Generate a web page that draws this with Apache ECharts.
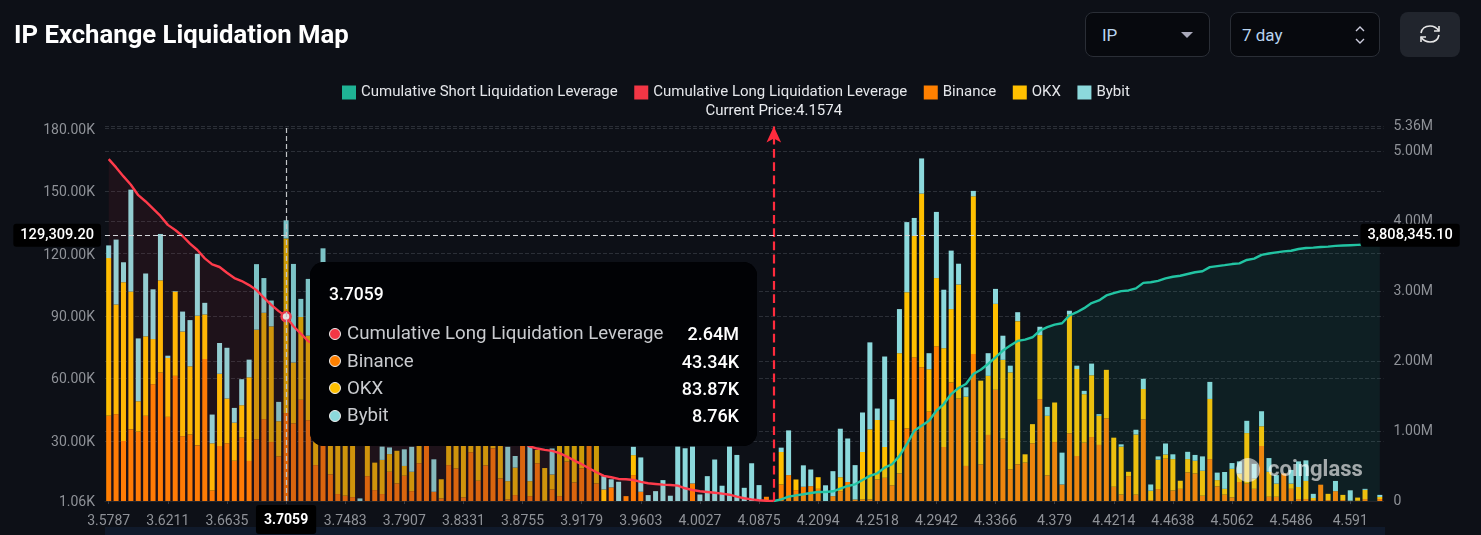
<!DOCTYPE html>
<html><head><meta charset="utf-8">
<script src="https://cdn.jsdelivr.net/npm/echarts@6/dist/echarts.min.js"></script>
<style>
html,body{margin:0;padding:0;background:#0d1017;width:1481px;height:535px;overflow:hidden;font-family:Roboto,sans-serif}
#c{position:absolute;left:0;top:0;width:1481px;height:535px}
.sel{position:absolute;top:12px;height:43px;background:#07090e;border:1px solid #2a2e36;border-radius:8px;color:#b9d4f0;font-size:17px;line-height:45px;padding-left:16px;box-sizing:content-box}
#strip{position:absolute;left:105px;top:527px;width:1280px;height:8px;background:#101a2b}
</style></head><body>
<div id="strip"></div>
<div id="c"></div>
<div class="sel" style="left:1085px;width:107px">IP<svg style="position:absolute;right:16px;top:19px" width="12" height="6"><path d="M0 0H12L6 6Z" fill="#aab"/></svg></div>
<div class="sel" style="left:1230px;width:137px;padding-left:11px">7 day<svg style="position:absolute;right:14px;top:12px" width="10" height="20"><path d="M1 6L5 2L9 6M1 14L5 18L9 14" stroke="#ccd" fill="none" stroke-width="1.4"/></svg></div>
<div style="position:absolute;left:1400px;top:12px;width:60px;height:45px;background:#21252d;border-radius:8px"><svg style="position:absolute;left:19px;top:12px" width="22" height="20" viewBox="0 0 22 20" fill="none" stroke="#e8e8e8" stroke-width="1.6"><path d="M2 9C3 4 7 2 11 2C15 2 18 4 20 7M20 11C19 16 15 18 11 18C7 18 4 16 2 13"/><path d="M20 2V7H15M2 18V13H7"/></svg></div>
<script>
const categories=["3.5787","3.5840","3.5893","3.5946","3.5999","3.6052","3.6105","3.6158","3.6211","3.6264","3.6317","3.6370","3.6423","3.6476","3.6529","3.6582","3.6635","3.6688","3.6741","3.6794","3.6847","3.6900","3.6953","3.7006","3.7059","3.7112","3.7165","3.7218","3.7271","3.7324","3.7377","3.7430","3.7483","3.7536","3.7589","3.7642","3.7695","3.7748","3.7801","3.7854","3.7907","3.7960","3.8013","3.8066","3.8119","3.8172","3.8225","3.8278","3.8331","3.8384","3.8437","3.8490","3.8543","3.8596","3.8649","3.8702","3.8755","3.8808","3.8861","3.8914","3.8967","3.9020","3.9073","3.9126","3.9179","3.9232","3.9285","3.9338","3.9391","3.9444","3.9497","3.9550","3.9603","3.9656","3.9709","3.9762","3.9815","3.9868","3.9921","3.9974","4.0027","4.0133","4.0239","4.0345","4.0451","4.0557","4.0663","4.0769","4.0875","4.0981","4.1574","4.1829","4.1882","4.1935","4.1988","4.2041","4.2094","4.2147","4.2200","4.2253","4.2306","4.2359","4.2412","4.2465","4.2518","4.2571","4.2624","4.2677","4.2730","4.2783","4.2836","4.2889","4.2942","4.2995","4.3048","4.3101","4.3154","4.3207","4.3260","4.3313","4.3366","4.3419","4.3472","4.3525","4.3578","4.3631","4.3684","4.3737","4.379","4.3843","4.3896","4.3949","4.4002","4.4055","4.4108","4.4161","4.4214","4.4267","4.4320","4.4373","4.4426","4.4479","4.4532","4.4585","4.4638","4.4691","4.4744","4.4797","4.4850","4.4903","4.4956","4.5009","4.5062","4.5115","4.5168","4.5221","4.5274","4.5327","4.5380","4.5433","4.5486","4.5539","4.5592","4.5645","4.5698","4.5751","4.5804","4.5857","4.591","4.5963","4.6016","4.6069","4.6122"];
const binance=[42.0,42.8,29.9,35.5,34.4,42.0,57.2,62.8,41.5,61.2,32.2,33.0,27.8,69.3,6.1,27.5,28.8,20.4,31.5,20.3,30.7,40.4,29.4,22.5,43.34,38.4,49.7,39.9,18.3,30.0,13.9,4.4,3.6,2.9,0,13.0,6.3,4.4,15.1,9.5,13.2,5.8,19.2,34.0,5.5,2.3,18.3,16.7,2.8,24.5,10.8,18.2,26.4,11.9,1.8,3.9,36.0,3.4,19.2,1.2,6.6,3.4,20.0,10.0,16.7,38.0,9.5,1.0,7.6,0,3.4,13.5,5.5,0,0,0,0,0,0,9.5,0,0,0,0,0,0,0,0,0,3.1,0,9.0,13.5,6.3,7.9,8.2,6.9,0,3.4,5.8,10.2,1.8,1.8,1.8,11.4,12.2,8.6,14.3,35.9,70.1,65.3,44.0,75.4,27.0,58.0,50.3,17.9,71.7,18.7,32.8,54.5,31.0,16.3,18.7,19.5,28.8,50.0,13.4,29.4,9.0,33.6,22.7,29.1,31.8,28.0,40.8,7.9,4.2,13.0,4.1,40.3,1.5,6.8,21.4,6.1,6.9,14.8,14.3,3.6,21.2,8.1,4.1,2.8,10.2,9.4,6.9,27.5,3.1,3.1,14.3,6.9,2,2,1.5,8.9,1.5,5.8,1.5,1.2,1.2,2,0,2];
const okx=[75.8,52.7,76.3,66.2,14.6,38.2,21.7,44.3,28.3,40.5,50.3,32.8,62.3,21.4,22.7,34.7,21.5,18.3,15.6,40.2,52.7,51.1,55.6,16.9,83.87,29.2,39.8,40.6,25,70,38,45,48,45,0,50,13.2,16.4,8.5,15.7,4.7,9.3,28,30,0,9.2,35,30,40,30,40,25,8,40,8.8,13.2,0,7.2,6.4,15.7,7.2,40,30,35,25,0,30,5.6,0,0,0,9.6,0,0,0,0,0,0,0,0,0,0,0,0,0,0,0,0,0,0,0,15.6,0,5.1,0,0,5.6,0,0,6.7,0,0,22.8,33.7,28.6,14.8,31.3,57.8,65.5,58.3,83.5,20.4,32.8,47.5,35.3,54.8,33.3,75.8,40.2,28.4,41.3,37.9,46.6,68.8,4.0,9.2,30.8,28.6,19.0,0,57.0,41.8,23.3,29.7,14.0,23.3,23.6,23.0,2.1,28.9,14.6,4.5,14.1,2.0,15.1,3.9,6.4,6.1,12.0,28.9,3.0,2.8,13.7,4.1,24.3,5,9.5,12.0,6.3,0,2.5,5.8,8.7,1,0,3,0,2.5,0,1.5,4.4,0,1];
const bybit=[6.1,31.2,9.6,49.0,30.2,30.2,23.9,22.3,1.1,0.3,9.6,22.2,29.7,5.6,13.8,14.8,24.4,7.1,12.5,8.5,31.5,16.7,12.4,9.3,8.76,47.4,8.7,27.3,0,22.5,0,0,0,0,2.3,0,0,6.4,3.2,0,8,12,0,0,15.6,0,0,0,2.1,0,0,0,0,0,16.5,5.6,0,18,0,0,12.5,0,0,0,0,0,0,6.4,3.9,10.3,0,4,16.5,3.9,5.8,11.1,3.6,27.2,26.4,17.7,4.2,13,21,8.4,27.2,23.2,7.4,19.2,8.7,0,0,2.1,21.5,0,10.3,8.0,0,8.6,12,23.3,20.9,16.5,19,41.8,5.5,43.5,10.1,21.2,33.7,8.7,16.9,7.7,31.8,28.1,28.1,10,4.5,2.6,0,10.9,7.2,11.6,3.2,4.3,0,0,4,4.3,0,15.3,1.9,1.6,1.6,5.6,0.8,0,0,1.1,0,2.3,4.9,3,1.6,5.3,2.3,0,3.5,2.8,6.9,8.2,3.6,8.1,2.8,5.8,5.9,7,7.2,6.6,4.1,0,6.6,12.3,9.9,2,0,0,4.9,0,5,0,0.5,0,1];
const longCum=[4.895,4.776,4.647,4.527,4.378,4.288,4.187,4.081,3.953,3.880,3.794,3.685,3.593,3.474,3.388,3.350,3.268,3.192,3.149,3.091,3.019,2.910,2.809,2.718,2.64,2.502,2.397,2.287,2.24,2.12,2.07,2.02,1.97,1.92,1.918,1.86,1.83,1.79,1.75,1.70,1.66,1.62,1.57,1.52,1.49,1.46,1.41,1.36,1.31,1.26,1.20,1.15,1.11,1.05,1.01,0.97,0.85,0.78,0.751,0.732,0.718,0.685,0.636,0.579,0.527,0.469,0.412,0.359,0.340,0.316,0.312,0.301,0.273,0.254,0.244,0.234,0.230,0.22,0.182,0.158,0.139,0.129,0.119,0.105,0.090,0.062,0.039,0.024,0.010,0.004,0];
const shortCum=[0,0.024,0.062,0.081,0.096,0.115,0.129,0.129,0.139,0.177,0.215,0.239,0.301,0.359,0.397,0.478,0.526,0.646,0.813,1.005,1.077,1.148,1.292,1.388,1.531,1.617,1.675,1.818,1.880,1.962,2.057,2.153,2.225,2.292,2.311,2.344,2.440,2.488,2.526,2.545,2.656,2.703,2.761,2.833,2.871,2.943,2.976,3.005,3.014,3.044,3.123,3.132,3.152,3.186,3.211,3.225,3.250,3.275,3.289,3.348,3.363,3.377,3.392,3.402,3.451,3.470,3.524,3.544,3.559,3.574,3.583,3.608,3.622,3.627,3.637,3.642,3.652,3.657,3.662,3.667,3.672,3.675,3.68];
const leftTicks=[1.06,30,60,90,120,150,180];
const rightTicks=[0,1,2,3,4,5,5.36];
const currentPrice="4.1574";
const hoverCategory="3.7059", hoverLeft=129.3092;
const hoverLeftText="129,309.20", hoverRightText="3,808,345.10";
const FONT="Roboto", TICK="#8f9298", GRIDC="#2b2f37";
const dimStart=20, dimEnd=66;
const shaded=(data,dim)=>data.map((v,i)=>(i>=dimStart&&i<=dimEnd)?{value:v,itemStyle:{color:dim}}:v);
const shortLine=categories.map((_,i)=>i<categories.length-shortCum.length?null:shortCum[i-(categories.length-shortCum.length)]);
const longLine=categories.map((_,i)=>i<longCum.length?longCum[i]:null);
const chart=echarts.init(document.getElementById('c'),null,{renderer:'canvas'});
const barSeries=(name,data,bright,dim)=>({name,type:'bar',stack:'liq',yAxisIndex:0,barWidth:5,data:shaded(data,dim),z:2,
  itemStyle:{color:bright},emphasis:{disabled:true}});
const fmtK=v=>v.toFixed(2)+'K';
chart.setOption({
 animation:false,backgroundColor:'transparent',
 textStyle:{fontFamily:FONT},
 title:{text:'IP Exchange Liquidation Map',left:14,top:24,padding:0,textStyle:{color:'#fff',fontSize:25.7,fontWeight:700,fontFamily:FONT}},
 legend:{left:342,top:85,itemWidth:14,itemHeight:14,itemGap:16.5,icon:'rect',padding:0,
  textStyle:{color:'#e4e6ea',fontSize:15,fontFamily:FONT},
  data:['Cumulative Short Liquidation Leverage','Cumulative Long Liquidation Leverage','Binance','OKX','Bybit']},
 grid:{left:105,right:97.5,top:126.6,bottom:34,containLabel:false},
 xAxis:{type:'category',data:categories,boundaryGap:true,
  axisLine:{show:true,lineStyle:{color:'#23262d'}},
  axisTick:{show:true,alignWithLabel:true,interval:7,length:3,lineStyle:{color:'#3a3d44'}},
  axisLabel:{interval:7,color:TICK,fontSize:14,margin:13,fontFamily:FONT,hideOverlap:false},
  splitLine:{show:false},
  axisPointer:{label:{show:true,backgroundColor:'#000',color:'#fff',fontSize:14,fontWeight:700,padding:[8,8,7,8],borderRadius:3,margin:4}}},
 yAxis:[
  {type:'value',min:1.06,max:181,position:'left',
   axisLine:{show:false},axisTick:{show:false,customValues:leftTicks},
   axisLabel:{customValues:leftTicks,margin:10,formatter:v=>'{t|'+fmtK(v)+'}',
     rich:{t:{color:TICK,fontSize:14,fontFamily:FONT,padding:[3,0,0,0]}}},
   splitLine:{show:true,lineStyle:{color:GRIDC,type:'dashed'}},
   axisPointer:{label:{show:true,backgroundColor:'#000',color:'#fff',fontSize:14.6,fontWeight:500,padding:[4,7,4,7],borderRadius:3,margin:4,
     formatter:()=>hoverLeftText}}},
  {type:'value',min:0,max:5.36,position:'right',
   axisLine:{show:false},axisTick:{show:false,customValues:rightTicks},
   axisLabel:{customValues:rightTicks,color:TICK,fontSize:14,margin:10,fontFamily:FONT,formatter:v=>v===0?'0':v.toFixed(2)+'M'},
   splitLine:{show:true,lineStyle:{color:GRIDC,type:'dashed'}},
   axisPointer:{label:{show:true,backgroundColor:'#000',color:'#fff',fontSize:14.6,fontWeight:500,padding:[4,7,4,7],borderRadius:3,margin:-23,
     formatter:()=>hoverRightText}}}
 ],
 tooltip:{trigger:'axis',alwaysShowContent:true,transitionDuration:0,showDelay:0,hideDelay:0,
  axisPointer:{type:'cross',lineStyle:{color:'#c4c6c9',type:[5,3],width:1.2},crossStyle:{color:'#d5d7da',type:[5,3],width:1.2}},
  backgroundColor:'#010205',borderWidth:0,borderRadius:14,padding:0,extraCssText:'box-shadow:none;opacity:1;',
  position:()=>[310,262],
  formatter:ps=>{
   const i=ps[0].dataIndex;
   const rows=[['Cumulative Long Liquidation Leverage','#f23645',longLine[i].toFixed(2)+'M'],['Binance','#ff8000',fmtK(binance[i])],['OKX','#ffc000',fmtK(okx[i])],['Bybit','#8cd9dc',fmtK(bybit[i])]];
   return '<div style="width:447px;height:184px;box-sizing:border-box;padding:22px 18px 0 19px;font-family:Roboto,sans-serif;background:#010205;border-radius:14px">'+
    '<div style="color:#fff;font-size:17.5px;line-height:20px;margin-bottom:16px;font-weight:500">'+categories[i]+'</div>'+
    rows.map(r=>'<div style="display:flex;align-items:center;height:27.4px"><span style="width:10px;height:10px;border-radius:50%;background:'+r[1]+';border:1.5px solid #eee;margin-right:6px"></span><span style="color:#c9cbcf;flex:1;font-size:18.7px">'+r[0]+'</span><span style="color:#fff;font-weight:500;font-size:18px">'+r[2]+'</span></div>').join('')+'</div>';
  }},
 series:[
  {name:'Cumulative Short Liquidation Leverage',type:'line',yAxisIndex:1,data:shortLine,showSymbol:false,connectNulls:false,z:4,
   lineStyle:{color:'#1fb395',width:2.4},itemStyle:{color:'#1fb395'},areaStyle:{color:'rgba(31,179,149,0.12)'}},
  {name:'Cumulative Long Liquidation Leverage',type:'line',yAxisIndex:1,data:longLine,showSymbol:false,symbol:'circle',symbolSize:9,z:4,
   lineStyle:{color:'#f23645',width:2.4},itemStyle:{color:'#f23645'},areaStyle:{color:'rgba(242,54,69,0.1)'},
   emphasis:{scale:false,itemStyle:{color:'#e3e3e3',borderColor:'#e8384a',borderWidth:2.5}},
   markLine:{silent:true,symbol:['none','arrow'],symbolSize:[11,16],animation:false,precision:4,
    lineStyle:{color:'#ff2b3d',type:'dashed',width:2.2},
    label:{show:true,position:'end',distance:8,color:'#e8eaee',fontSize:15,fontFamily:FONT,formatter:'Current Price:'+currentPrice},
    data:[{xAxis:currentPrice}]}},
  barSeries('Binance',binance,'#ff8000','#d8690a'),
  barSeries('OKX',okx,'#ffc000','#cc9b08'),
  barSeries('Bybit',bybit,'#8cd9dc','#7cc3c6')
 ],
 graphic:[
  {type:'text',left:1268,top:459,z:100,silent:true,style:{text:'coinglass',fill:'rgba(255,255,255,0.62)',font:'700 22px Roboto'}},
  {type:'circle',shape:{cx:1248,cy:470,r:12},z:100,silent:true,style:{fill:'rgba(255,255,255,0.55)'}}
 ]
});
const px=chart.convertToPixel({xAxisIndex:0,yAxisIndex:0},[hoverCategory,hoverLeft]);
chart.dispatchAction({type:'showTip',x:px[0],y:px[1]+1});
</script>
</body></html>
